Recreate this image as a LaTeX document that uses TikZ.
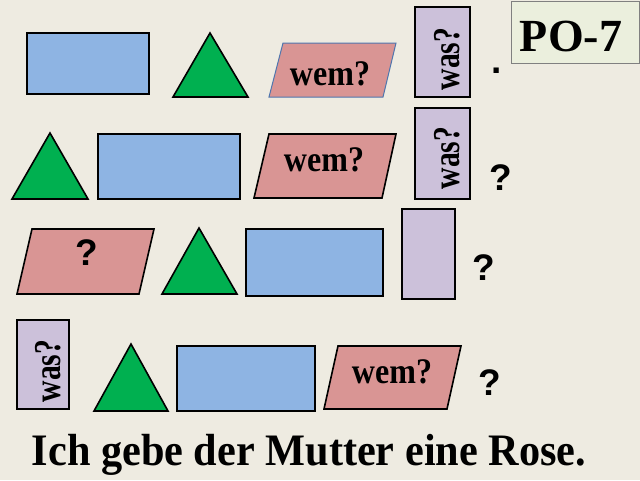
\documentclass[tikz,border=0pt]{standalone}
\usepackage{fontspec}
\setmainfont{Liberation Serif}
\newfontfamily\qsans{Liberation Sans}
\definecolor{bgC}{HTML}{EEEBE1}
\definecolor{blueC}{HTML}{8EB4E3}
\definecolor{greenC}{HTML}{00B050}
\definecolor{pinkC}{HTML}{D99594}
\definecolor{lavC}{HTML}{CCC1DA}
\definecolor{poC}{HTML}{EBEFDD}
\definecolor{paraEdge}{HTML}{4F76AE}
\begin{document}
\begin{tikzpicture}[x=1pt,y=-1pt,
  shp/.style={draw=black,line width=1.6pt,line join=miter},
  bluebox/.style={shp,fill=blueC},
  tri/.style={shp,fill=greenC},
  para/.style={shp,fill=pinkC},
  lav/.style={shp,fill=lavC},
  wemtxt/.style={anchor=base,inner sep=0pt,font=\fontsize{36}{36}\selectfont\bfseries},
  wastxt/.style={rotate=90,inner sep=0pt,font=\fontsize{38}{38}\selectfont\bfseries},
  qtxt/.style={anchor=base,inner sep=0pt,font=\fontsize{37}{37}\selectfont\qsans\bfseries}]
\fill[bgC] (0,0) rectangle (640,480);
\useasboundingbox (0,0) rectangle (640,480);
% Row 1
\draw[bluebox] (27,33) rectangle (149,94);
\draw[tri] (210,33) -- (248,97) -- (173,97) -- cycle;
\draw[fill=pinkC,draw=paraEdge,line width=1pt] (283,43) -- (396,43) -- (383,97) -- (269,97) -- cycle;
\node[wemtxt] (w1) at (330,85) {\scalebox{0.89}[1]{wem?}};
\draw[lav] (415,7) rectangle (470,97);
\node[wastxt] (s1) at (447,59) {\scalebox{0.78}[1]{was?}};
\node[qtxt] (p1) at (497,73) {.};
\draw[fill=poC,draw=black!50,line width=1pt] (511,1) rectangle (639,63);
\node[anchor=base,inner sep=0pt,font=\fontsize{46}{46}\selectfont\bfseries] (po) at (571,51) {PO-7};
% Row 2
\draw[tri] (50,133) -- (88,199) -- (12,199) -- cycle;
\draw[bluebox] (98,134) rectangle (240,199);
\draw[para] (269,134) -- (396,134) -- (382,198) -- (254,198) -- cycle;
\node[wemtxt] (w2) at (324,171) {\scalebox{0.89}[1]{wem?}};
\draw[lav] (415,108) rectangle (470,199);
\node[wastxt] (s2) at (447,158) {\scalebox{0.78}[1]{was?}};
\node[qtxt] (q2) at (501,190) {?};
% Row 3
\draw[para] (32,229) -- (154,229) -- (139,294) -- (17,294) -- cycle;
\node[qtxt] (q3a) at (87,265) {?};
\draw[tri] (199,228) -- (237,294) -- (162,294) -- cycle;
\draw[bluebox] (246,229) rectangle (383,296);
\draw[lav] (402,209) rectangle (455,299);
\node[qtxt] (q3) at (484,280) {?};
% Row 4
\draw[lav] (17,320) rectangle (69,409);
\node[wastxt] (s4) at (48,371) {\scalebox{0.78}[1]{was?}};
\draw[tri] (131,344) -- (168,411) -- (94,411) -- cycle;
\draw[bluebox] (177,346) rectangle (315,411);
\draw[para] (338,346) -- (461,346) -- (447,409) -- (324,409) -- cycle;
\node[wemtxt] (w4) at (392,383) {\scalebox{0.89}[1]{wem?}};
\node[qtxt] (q4) at (490,395) {?};
% Sentence
\node[anchor=base,inner sep=0pt,font=\fontsize{45}{45}\selectfont\bfseries] (satz) at (309,465) {\scalebox{0.94}[1]{Ich gebe der Mutter eine Rose.}};
\end{tikzpicture}
\end{document}
